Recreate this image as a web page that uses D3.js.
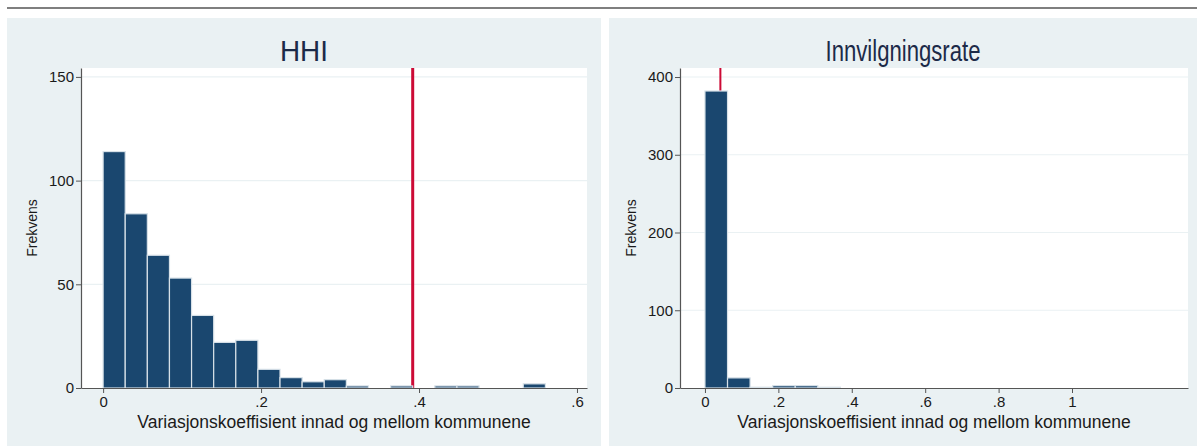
<!DOCTYPE html>
<html>
<head>
<meta charset="utf-8">
<script src="https://cdn.jsdelivr.net/npm/d3@7"></script>
<style>
  html, body { margin: 0; padding: 0; background: #ffffff; }
  svg { display: block; font-family: "Liberation Sans", Arial, sans-serif; }
</style>
</head>
<body>
<svg id="chart" width="1197" height="446"></svg>
<script>
// ---------- data ----------
const panelTitles = ["HHI", "Innvilgningsrate"];
const xAxisTitle = "Variasjonskoeffisient innad og mellom kommunene";
const yAxisTitle = "Frekvens";

// HHI histogram (20 bins)
const hhiBinStart = 0.0;
const hhiBinWidth = 0.028;
const hhiCounts = [114, 84, 64, 53, 35, 22, 23, 9, 5, 3, 4, 1, 0, 1, 0, 1, 1, 0, 0, 2];
const hhiMarker = 0.392;
const hhiXTicks = [0, 0.2, 0.4, 0.6];
const hhiYTicks = [0, 50, 100, 150];
const hhiXDomain = [-0.028, 0.6127];
const hhiYDomain = [0, 154.3];

// Innvilgningsrate histogram (20 bins)
const rateBinStart = 0.0;
const rateBinWidth = 0.0615;
const rateCounts = [382, 13, 1, 3, 3, 1, 0, 0, 0, 0, 0, 0, 0, 0, 0, 0, 0, 0, 0, 0];
const rateMarker = 0.042;
const rateXTicks = [0, 0.2, 0.4, 0.6, 0.8, 1];
const rateYTicks = [0, 100, 200, 300, 400];
const rateXDomain = [-0.068, 1.316];
const rateYDomain = [0, 411.6];

// ---------- drawing ----------
const svg = d3.select("#chart");
const fmt = v => v === 0 ? "0" : (v === 1 ? "1" : String(v).replace(/^0\./, "."));

// top rule
svg.append("rect").attr("x", 7).attr("y", 7).attr("width", 1190).attr("height", 2).attr("fill", "#7f7f7f");

function drawPanel(cfg) {
  const g = svg.append("g");
  g.append("rect").attr("x", cfg.bg[0]).attr("y", cfg.bg[1]).attr("width", cfg.bg[2]).attr("height", cfg.bg[3])
    .attr("fill", "#eaf1f3");
  const [L, T, R, B] = cfg.plot;
  g.append("rect").attr("x", L).attr("y", T).attr("width", R - L).attr("height", B - T).attr("fill", "#ffffff");

  const x = d3.scaleLinear().domain(cfg.xDomain).range([L, R]);
  const y = d3.scaleLinear().domain(cfg.yDomain).range([B, T]);

  // gridlines
  g.append("g").selectAll("line").data(cfg.yTicks.filter(d => d > 0)).join("line")
    .attr("x1", L).attr("x2", R).attr("y1", d => y(d)).attr("y2", d => y(d))
    .attr("stroke", "#eaf1f3").attr("stroke-width", 1.2);

  // marker line (behind bars)
  g.append("line").attr("x1", x(cfg.marker)).attr("x2", x(cfg.marker)).attr("y1", T).attr("y2", B)
    .attr("stroke", "#cc0a35").attr("stroke-width", cfg.markerWidth);

  // bars
  const bins = cfg.counts.map((c, i) => ({ x0: cfg.binStart + i * cfg.binWidth, x1: cfg.binStart + (i + 1) * cfg.binWidth, c }));
  g.append("g").selectAll("rect").data(bins.filter(d => d.c > 0)).join("rect")
    .attr("x", d => x(d.x0)).attr("width", d => x(d.x1) - x(d.x0))
    .attr("y", d => y(d.c)).attr("height", d => y(0) - y(d.c))
    .attr("fill", "#1a476f").attr("stroke", "#d7e1e8").attr("stroke-width", 1.2);

  // axes
  const xa = g.append("g").attr("transform", `translate(0,${B})`)
    .call(d3.axisBottom(x).tickValues(cfg.xTicks).tickFormat(fmt).tickSize(5).tickPadding(3).tickSizeOuter(0));
  const ya = g.append("g").attr("transform", `translate(${L},0)`)
    .call(d3.axisLeft(y).tickValues(cfg.yTicks).tickFormat(d => d).tickSize(5).tickPadding(2).tickSizeOuter(0));
  [xa, ya].forEach(a => {
    a.select(".domain").attr("stroke", "#555555").attr("stroke-width", 1.2);
    a.selectAll(".tick line").attr("stroke", "#555555");
    a.selectAll(".tick text").attr("font-size", 15).attr("fill", "#1a1a1a").attr("font-family", "Liberation Sans, Arial, sans-serif");
  });

  // titles
  g.append("text").attr("x", cfg.bg[0] + cfg.bg[2] / 2).attr("y", 61).attr("text-anchor", "middle")
    .attr("font-size", 29).attr("fill", "#1c2a48")
    .attr("textLength", cfg.titleLen).attr("lengthAdjust", "spacingAndGlyphs").text(cfg.title);
  g.append("text").attr("x", (L + R) / 2).attr("y", 428).attr("text-anchor", "middle")
    .attr("font-size", 17.5).attr("fill", "#1a1a1a").text(xAxisTitle);
  g.append("text").attr("transform", `translate(${L - 44},${(T + B) / 2}) rotate(-90)`).attr("text-anchor", "middle")
    .attr("font-size", 14).attr("fill", "#1a1a1a").text(yAxisTitle);
}

drawPanel({
  title: panelTitles[0], titleLen: 48, bg: [7, 18, 594, 428], plot: [81, 68, 587, 388],
  xDomain: hhiXDomain, yDomain: hhiYDomain, xTicks: hhiXTicks, yTicks: hhiYTicks,
  binStart: hhiBinStart, binWidth: hhiBinWidth, counts: hhiCounts, marker: hhiMarker, markerWidth: 3
});
drawPanel({
  title: panelTitles[1], titleLen: 155, bg: [609, 18, 588, 428], plot: [680, 68, 1188, 388],
  xDomain: rateXDomain, yDomain: rateYDomain, xTicks: rateXTicks, yTicks: rateYTicks,
  binStart: rateBinStart, binWidth: rateBinWidth, counts: rateCounts, marker: rateMarker, markerWidth: 2
});
</script>
</body>
</html>
